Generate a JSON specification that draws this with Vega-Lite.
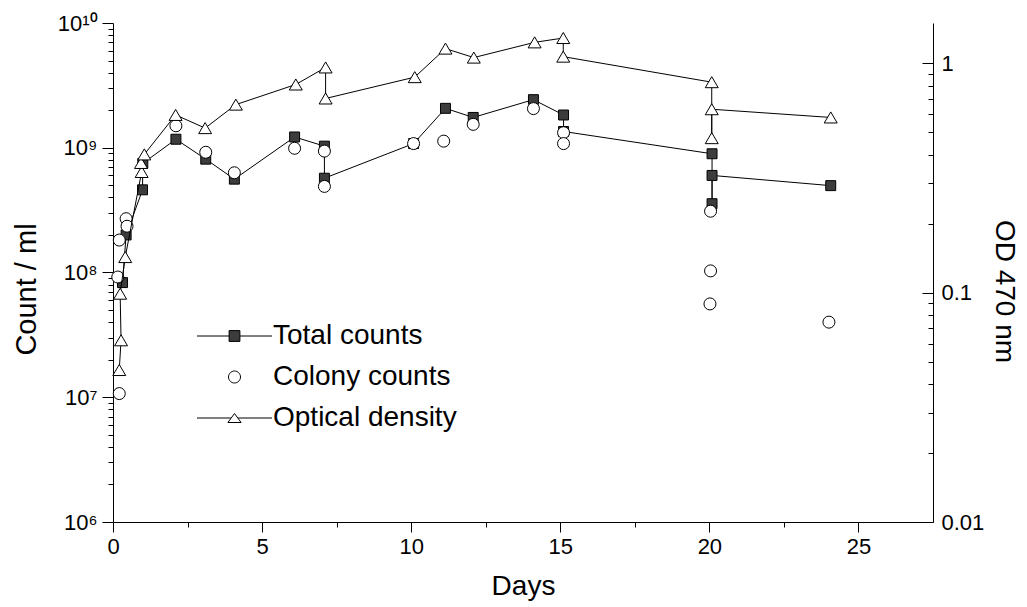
{
  "$schema": "https://vega.github.io/schema/vega-lite/v6.json",
  "width": 820,
  "height": 499,
  "autosize": "none",
  "padding": {"left": 113, "top": 23, "right": 94, "bottom": 85},
  "background": "white",
  "config": {
    "view": {"stroke": null},
    "font": "Liberation Sans",
    "axis": {
      "grid": false,
      "domainColor": "black",
      "domainWidth": 1,
      "tickColor": "black",
      "tickWidth": 1,
      "labelColor": "black",
      "titleColor": "black",
      "labelFont": "Liberation Sans",
      "titleFont": "Liberation Sans",
      "titleFontWeight": "normal",
      "labelFontSize": 22,
      "titleFontSize": 29
    }
  },
  "data": {
    "values": [
      {"s": "Total counts", "seq": 1, "day": 0.32, "v": 83000000},
      {"s": "Total counts", "seq": 2, "day": 0.44, "v": 200000000},
      {"s": "Total counts", "seq": 3, "day": 0.99, "v": 460000000},
      {"s": "Total counts", "seq": 4, "day": 1.0, "v": 750000000},
      {"s": "Total counts", "seq": 5, "day": 2.11, "v": 1170000000},
      {"s": "Total counts", "seq": 6, "day": 3.11, "v": 810000000},
      {"s": "Total counts", "seq": 7, "day": 4.07, "v": 560000000},
      {"s": "Total counts", "seq": 8, "day": 6.09, "v": 1220000000},
      {"s": "Total counts", "seq": 9, "day": 7.09, "v": 1030000000},
      {"s": "Total counts", "seq": 10, "day": 7.09, "v": 570000000},
      {"s": "Total counts", "seq": 11, "day": 10.08, "v": 1080000000},
      {"s": "Total counts", "seq": 12, "day": 11.15, "v": 2070000000},
      {"s": "Total counts", "seq": 13, "day": 12.08, "v": 1750000000},
      {"s": "Total counts", "seq": 14, "day": 14.1, "v": 2430000000},
      {"s": "Total counts", "seq": 15, "day": 15.11, "v": 1830000000},
      {"s": "Total counts", "seq": 16, "day": 15.11, "v": 1350000000},
      {"s": "Total counts", "seq": 17, "day": 20.09, "v": 895000000},
      {"s": "Total counts", "seq": 18, "day": 20.09, "v": 356000000},
      {"s": "Total counts", "seq": 19, "day": 20.09, "v": 600000000},
      {"s": "Total counts", "seq": 20, "day": 24.07, "v": 497000000},
      {"s": "Colony counts", "seq": 1, "day": 0.21, "v": 10700000},
      {"s": "Colony counts", "seq": 2, "day": 0.16, "v": 92000000},
      {"s": "Colony counts", "seq": 3, "day": 0.21, "v": 182000000},
      {"s": "Colony counts", "seq": 4, "day": 0.44, "v": 270000000},
      {"s": "Colony counts", "seq": 5, "day": 0.47, "v": 235000000},
      {"s": "Colony counts", "seq": 6, "day": 2.11, "v": 1500000000},
      {"s": "Colony counts", "seq": 7, "day": 3.11, "v": 920000000},
      {"s": "Colony counts", "seq": 8, "day": 4.07, "v": 630000000},
      {"s": "Colony counts", "seq": 9, "day": 6.09, "v": 990000000},
      {"s": "Colony counts", "seq": 10, "day": 7.09, "v": 940000000},
      {"s": "Colony counts", "seq": 11, "day": 7.09, "v": 490000000},
      {"s": "Colony counts", "seq": 12, "day": 10.08, "v": 1080000000},
      {"s": "Colony counts", "seq": 13, "day": 11.09, "v": 1130000000},
      {"s": "Colony counts", "seq": 14, "day": 12.08, "v": 1540000000},
      {"s": "Colony counts", "seq": 15, "day": 14.1, "v": 2060000000},
      {"s": "Colony counts", "seq": 16, "day": 15.11, "v": 1320000000},
      {"s": "Colony counts", "seq": 17, "day": 15.11, "v": 1080000000},
      {"s": "Colony counts", "seq": 18, "day": 20.04, "v": 310000000},
      {"s": "Colony counts", "seq": 19, "day": 20.04, "v": 103000000},
      {"s": "Colony counts", "seq": 20, "day": 20.02, "v": 56000000},
      {"s": "Colony counts", "seq": 21, "day": 24.01, "v": 40000000},
      {"s": "Optical density", "seq": 1, "day": 0.21, "v": 0.046},
      {"s": "Optical density", "seq": 2, "day": 0.27, "v": 0.062},
      {"s": "Optical density", "seq": 3, "day": 0.24, "v": 0.099},
      {"s": "Optical density", "seq": 4, "day": 0.41, "v": 0.143},
      {"s": "Optical density", "seq": 5, "day": 0.96, "v": 0.336},
      {"s": "Optical density", "seq": 6, "day": 0.94, "v": 0.368},
      {"s": "Optical density", "seq": 7, "day": 1.05, "v": 0.401},
      {"s": "Optical density", "seq": 8, "day": 2.1, "v": 0.596},
      {"s": "Optical density", "seq": 9, "day": 3.09, "v": 0.522},
      {"s": "Optical density", "seq": 10, "day": 4.12, "v": 0.661},
      {"s": "Optical density", "seq": 11, "day": 6.13, "v": 0.809},
      {"s": "Optical density", "seq": 12, "day": 7.13, "v": 0.96},
      {"s": "Optical density", "seq": 13, "day": 7.13, "v": 0.703},
      {"s": "Optical density", "seq": 14, "day": 10.12, "v": 0.871},
      {"s": "Optical density", "seq": 15, "day": 11.15, "v": 1.16},
      {"s": "Optical density", "seq": 16, "day": 12.1, "v": 1.06},
      {"s": "Optical density", "seq": 17, "day": 14.14, "v": 1.235},
      {"s": "Optical density", "seq": 18, "day": 15.1, "v": 1.29},
      {"s": "Optical density", "seq": 19, "day": 15.1, "v": 1.07},
      {"s": "Optical density", "seq": 20, "day": 20.08, "v": 0.828},
      {"s": "Optical density", "seq": 21, "day": 20.08, "v": 0.472},
      {"s": "Optical density", "seq": 22, "day": 20.08, "v": 0.631},
      {"s": "Optical density", "seq": 23, "day": 24.07, "v": 0.581}
    ]
  },
  "layer": [
    {
      "encoding": {
        "x": {
          "field": "day", "type": "quantitative",
          "scale": {"domain": [0, 27.5], "nice": false, "zero": false},
          "axis": {
            "title": "Days",
            "values": [0, 2.5, 5, 7.5, 10, 12.5, 15, 17.5, 20, 22.5, 25],
            "labelExpr": "datum.value % 5 === 0 ? datum.label : ''",
            "tickSize": {"condition": {"test": "datum.value % 5 === 0", "value": 10}, "value": 5},
            "labelPadding": 4,
            "labelFlush": false,
            "titleFontSize": 28,
            "titlePadding": 15
          }
        },
        "y": {
          "field": "v", "type": "quantitative",
          "scale": {"type": "log", "domain": [1000000, 10000000000], "nice": false},
          "axis": {
            "title": "Count / ml",
            "values": [1000000, 2000000, 3000000, 4000000, 5000000, 6000000, 7000000, 8000000, 9000000, 10000000, 20000000, 30000000, 40000000, 50000000, 60000000, 70000000, 80000000, 90000000, 100000000, 200000000, 300000000, 400000000, 500000000, 600000000, 700000000, 800000000, 900000000, 1000000000, 2000000000, 3000000000, 4000000000, 5000000000, 6000000000, 7000000000, 8000000000, 9000000000, 10000000000],
            "labelExpr": "datum.value == 1000000 ? '10⁶' : datum.value == 10000000 ? '10⁷' : datum.value == 100000000 ? '10⁸' : datum.value == 1000000000 ? '10⁹' : datum.value == 10000000000 ? '10¹⁰' : ''",
            "tickSize": {"condition": {"test": "indexof([1000000, 10000000, 100000000, 1000000000, 10000000000], datum.value) >= 0", "value": 11}, "value": 5},
            "labelPadding": 5,
            "labelFlush": false,
            "labelOverlap": false,
            "titlePadding": 16,
            "titleY": 266
          }
        }
      },
      "layer": [
        {
          "transform": [{"filter": "datum.s === 'Total counts'"}],
          "mark": {"type": "line", "color": "black", "strokeWidth": 1},
          "encoding": {"order": {"field": "seq", "type": "quantitative"}}
        },
        {
          "transform": [{"filter": "datum.s !== 'Optical density'"}],
          "mark": {"type": "point", "filled": true, "size": 144, "stroke": "black", "strokeWidth": 1, "opacity": 1},
          "encoding": {
            "shape": {
              "field": "s", "type": "nominal",
              "scale": {"domain": ["Total counts", "Colony counts", "Optical density"], "range": ["M-0.83,-0.83H0.83V0.83H-0.83Z", "circle", "M0,-0.92L1.08,0.92L-1.08,0.92Z"]},
              "legend": null
            },
            "fill": {
              "field": "s", "type": "nominal",
              "scale": {"domain": ["Total counts", "Colony counts", "Optical density"], "range": ["#3c3c3c", "white", "white"]},
              "legend": null
            }
          }
        }
      ]
    },
    {
      "transform": [{"filter": "datum.s === 'Optical density'"}],
      "encoding": {
        "x": {"field": "day", "type": "quantitative", "scale": {"domain": [0, 27.5], "nice": false, "zero": false}},
        "y": {
          "field": "v", "type": "quantitative",
          "scale": {"type": "log", "domain": [0.01, 1.5], "nice": false},
          "axis": {
            "orient": "right",
            "title": "OD 470 nm",
            "values": [0.01, 0.02, 0.03, 0.04, 0.05, 0.06, 0.07, 0.08, 0.09, 0.1, 0.2, 0.3, 0.4, 0.5, 0.6, 0.7, 0.8, 0.9, 1],
            "labelExpr": "datum.value == 0.01 ? '0.01' : datum.value == 0.1 ? '0.1' : datum.value == 1 ? '1' : ''",
            "tickSize": {"condition": {"test": "datum.value == 0.01 || datum.value == 0.1 || datum.value == 1", "value": -11}, "value": -5},
            "labelPadding": 19,
            "labelFlush": false,
            "labelOverlap": false,
            "titleFontSize": 28,
            "titleAngle": 90,
            "titlePadding": 6,
            "titleY": 268
          }
        }
      },
      "layer": [
        {
          "mark": {"type": "line", "color": "black", "strokeWidth": 1},
          "encoding": {"order": {"field": "seq", "type": "quantitative"}}
        },
        {
          "mark": {"type": "point", "filled": true, "size": 144, "stroke": "black", "strokeWidth": 1, "opacity": 1, "fill": "white"},
          "encoding": {
            "shape": {"field": "s", "type": "nominal", "scale": {"domain": ["Total counts", "Colony counts", "Optical density"], "range": ["M-0.83,-0.83H0.83V0.83H-0.83Z", "circle", "M0,-0.92L1.08,0.92L-1.08,0.92Z"]}, "legend": null}
          }
        }
      ]
    },
    {
      "transform": [{"filter": "false"}],
      "mark": {"type": "point", "filled": true, "size": 144, "strokeWidth": 1, "opacity": 1},
      "encoding": {
        "shape": {
          "field": "s", "type": "nominal",
          "scale": {"domain": ["Total counts", "Colony counts", "Optical density"], "range": ["M-6.25,0H-0.9M0.9,0H6.25M-0.9,-0.9H0.9V0.9H-0.9Z", "M1,0A1,1,0,1,1,-1,0A1,1,0,1,1,1,0Z", "M-6.25,0H-0.6M0.6,0H6.25M0,-0.75L1.1,0.75L-1.1,0.75Z"]},
          "legend": {
            "orient": "none",
            "legendX": 107.5,
            "legendY": 299,
            "title": null,
            "labelFont": "Liberation Sans",
            "labelFontSize": 28,
            "labelColor": "black",
            "labelLimit": 0,
            "labelOffset": 24.5,
            "rowPadding": 13,
            "symbolSize": 144,
            "symbolStrokeWidth": 1,
            "symbolOpacity": 1
          }
        },
        "fill": {
          "field": "s", "type": "nominal",
          "scale": {"domain": ["Total counts", "Colony counts", "Optical density"], "range": ["#3c3c3c", "white", "white"]}
        },
        "stroke": {
          "field": "s", "type": "nominal",
          "scale": {"domain": ["Total counts", "Colony counts", "Optical density"], "range": ["black", "black", "black"]}
        }
      }
    }
  ],
  "resolve": {"scale": {"y": "independent", "shape": "independent", "fill": "independent", "stroke": "independent"}}
}
